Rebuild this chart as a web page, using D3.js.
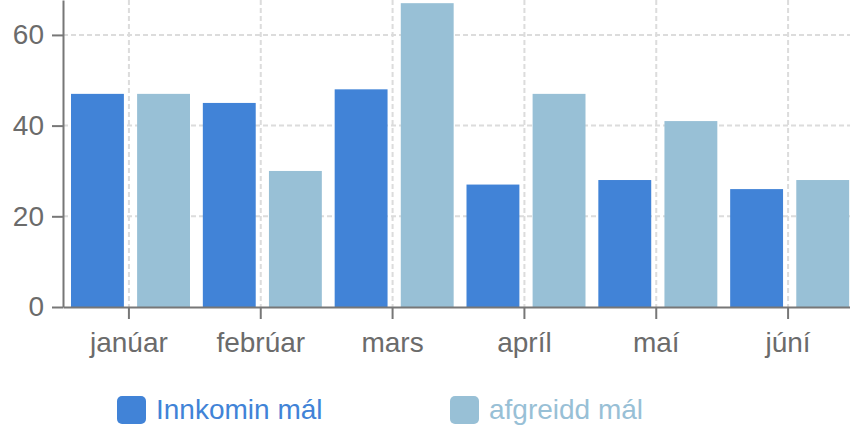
<!DOCTYPE html>
<html><head><meta charset="utf-8">
<script src="https://cdn.jsdelivr.net/npm/d3@7"></script>
<style>body{margin:0;background:#fff} svg{display:block;font-family:"Liberation Sans",Arial,sans-serif}</style>
</head><body><svg id="c" width="850" height="429"></svg>
<script>
const months = ["janúar","febrúar","mars","apríl","maí","júní"];
const seriesNames = ["Innkomin mál","afgreidd mál"];
const innkomin = [47,45,48,27,28,26];
const afgreidd = [47,30,67,47,41,28];
const yTicks = [0,20,40,60];
const colors = ["#4183d7","#98c0d6"];

const values = [innkomin, afgreidd];
const data = months.map((m,i)=>({month:m, vals: seriesNames.map((s,j)=>({series:s, value:values[j][i], color:colors[j]}))}));

const svg = d3.select("#c");
const left = 63, bottom = 307, right = 854;
const x0 = d3.scaleBand().domain(months).range([left, right]);
const x1 = d3.scaleBand().domain(seriesNames).range([8, 127]).paddingInner(0.2);
const y = d3.scaleLinear().domain([0, 67.7]).range([bottom, 0]);

const axisColor = "#777";
const textColor = "#6b6b6b";
const gridColor = "#dcdcdc";

// grid
const grid = svg.append("g");
grid.selectAll("line.h").data(yTicks.filter(d=>d>0)).join("line")
  .attr("x1", left).attr("x2", 850).attr("y1", d=>y(d)).attr("y2", d=>y(d))
  .attr("stroke", gridColor).attr("stroke-width", 2).attr("stroke-dasharray", "5,3");
grid.selectAll("line.v").data(months).join("line")
  .attr("x1", d=>x0(d)+x0.bandwidth()/2).attr("x2", d=>x0(d)+x0.bandwidth()/2)
  .attr("y1", 0).attr("y2", bottom)
  .attr("stroke", gridColor).attr("stroke-width", 2).attr("stroke-dasharray", "5,3");

// bars
const groups = svg.append("g").selectAll("g").data(data).join("g")
  .attr("transform", d=>`translate(${x0(d.month)},0)`);
groups.selectAll("rect").data(d=>d.vals).join("rect")
  .attr("x", d=>x1(d.series)).attr("width", x1.bandwidth())
  .attr("y", d=>y(d.value)).attr("height", d=>bottom - y(d.value))
  .attr("fill", d=>d.color);

// axes
const yAxis = svg.append("g").attr("transform", `translate(${left},0)`)
  .call(d3.axisLeft(y).tickValues(yTicks).tickSizeInner(11).tickSizeOuter(0).tickPadding(8));
const xAxis = svg.append("g").attr("transform", `translate(0,${bottom})`)
  .call(d3.axisBottom(x0).tickSizeInner(12).tickSizeOuter(0).tickPadding(13));
[yAxis, xAxis].forEach(a=>{
  a.select(".domain").attr("stroke", axisColor).attr("stroke-width", 2);
  a.selectAll(".tick line").attr("stroke", axisColor).attr("stroke-width", 2);
  a.selectAll(".tick text").attr("fill", textColor).style("font-size", "28px")
   .style("font-family", "'Liberation Sans', Arial, sans-serif");
});

// legend
const legendX = [117, 450];
const leg = svg.append("g").selectAll("g").data(seriesNames).join("g")
  .attr("transform", (d,i)=>`translate(${legendX[i]},396)`);
leg.append("rect").attr("width", 29).attr("height", 28).attr("rx", 5)
  .attr("fill", (d,i)=>colors[i]);
leg.append("text").attr("x", 39).attr("y", 23).text(d=>d)
  .attr("fill", (d,i)=>colors[i]).style("font-size", "28px");
</script></body></html>
